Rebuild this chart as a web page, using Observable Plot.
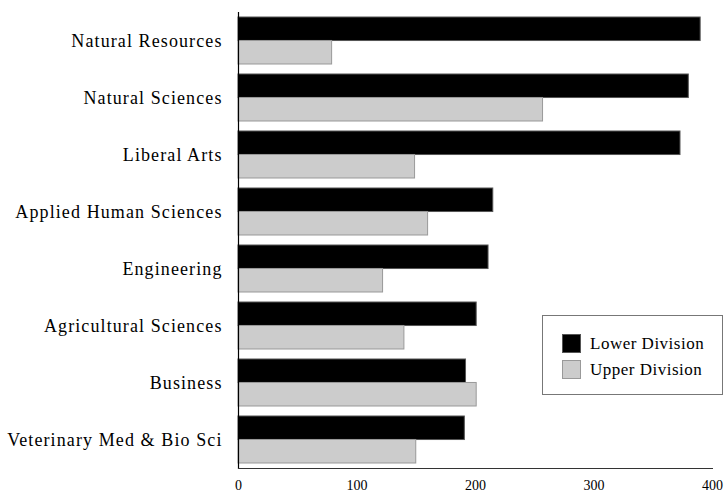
<!DOCTYPE html>
<html>
<head>
<meta charset="utf-8">
<script src="https://cdn.jsdelivr.net/npm/d3@7"></script>
<script src="https://cdn.jsdelivr.net/npm/@observablehq/plot@0.6"></script>
<style>
  html, body { margin: 0; padding: 0; background: #fff; }
  #wrap { position: relative; width: 727px; height: 493px; font-family: "Liberation Serif", serif; }
  #wrap svg { display: block; }
  g[aria-label="y-axis tick label"] text { font-size: 18px; letter-spacing: 1.1px; fill: #000; }
  g[aria-label="x-axis tick label"] text { font-size: 14px; fill: #000; }
  .legend { position: absolute; left: 542px; top: 315px; width: 181px; height: 80px;
            border: 1px solid #777; background: #fff; box-sizing: border-box; }
  .legend .item { position: absolute; left: 19px; height: 19px; display: flex; align-items: center; }
  .legend .sw { width: 17px; height: 17px; border: 1px solid; margin-right: 9px; }
  .legend .lab { font-size: 17px; letter-spacing: 0.5px; line-height: 19px; color: #000; }
</style>
</head>
<body>
<div id="wrap"></div>
<script>
const categories = [
  "Natural Resources",
  "Natural Sciences",
  "Liberal Arts",
  "Applied Human Sciences",
  "Engineering",
  "Agricultural Sciences",
  "Business",
  "Veterinary Med & Bio Sci"
];
const series = ["Lower Division", "Upper Division"];
const lowerDivision = [390, 380, 373, 215, 211, 201, 192, 191];
const upperDivision = [79, 257, 149, 160, 122, 140, 201, 150];
const xTicks = [0, 100, 200, 300, 400];
const fills = ["#000000", "#cccccc"];
const strokes = ["#555555", "#999999"];

const lowerRows = categories.map((c, i) => ({category: c, division: series[0], value: lowerDivision[i]}));
const upperRows = categories.map((c, i) => ({category: c, division: series[1], value: upperDivision[i]}));

const W = 727, H = 493, MT = 12, MB = 25, ML = 238, MR = 15;
const PI = 0.18, PO = 0.073;
const step = (H - MT - MB) / (categories.length - PI + 2 * PO);
const half = step * (1 - PI) / 2;

const chart = Plot.plot({
  width: W, height: H,
  marginTop: MT, marginBottom: MB, marginLeft: ML, marginRight: MR,
  style: {fontFamily: "Liberation Serif, serif", fontSize: "14px", color: "#000", background: "#fff"},
  x: {domain: [0, 400], label: null},
  y: {domain: categories, paddingInner: PI, paddingOuter: PO, label: null},
  marks: [
    Plot.barX(lowerRows, {x: "value", y: "category", fill: fills[0], stroke: strokes[0], strokeWidth: 1, insetBottom: half}),
    Plot.barX(upperRows, {x: "value", y: "category", fill: fills[1], stroke: strokes[1], strokeWidth: 1, insetTop: half}),
    Plot.axisX({ticks: xTicks, tickSize: 0, tickPadding: 12, label: null}),
    Plot.axisY({tickSize: 0, tickPadding: 16, label: null}),
    Plot.frame({anchor: "left", stroke: "#000", strokeWidth: 1.2}),
    Plot.frame({anchor: "bottom", stroke: "#333", strokeWidth: 1})
  ]
});
const wrap = document.getElementById("wrap");
wrap.appendChild(chart);

const legend = document.createElement("div");
legend.className = "legend";
series.forEach((s, i) => {
  const item = document.createElement("div");
  item.className = "item";
  item.style.top = (18 + i * 26) + "px";
  const sw = document.createElement("div");
  sw.className = "sw";
  sw.style.background = fills[i];
  sw.style.borderColor = strokes[i];
  const lab = document.createElement("span");
  lab.className = "lab";
  lab.textContent = s;
  item.appendChild(sw);
  item.appendChild(lab);
  legend.appendChild(item);
});
wrap.appendChild(legend);
</script>
</body>
</html>
